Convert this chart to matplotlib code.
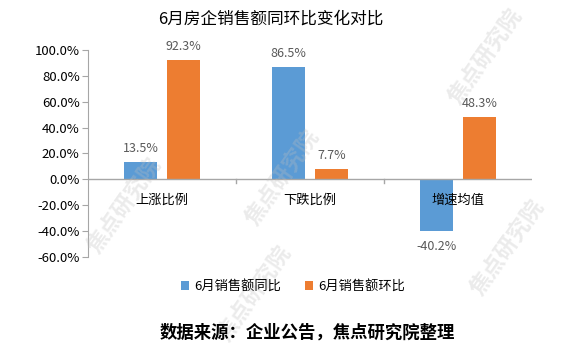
import numpy as np
import matplotlib
matplotlib.use("Agg")
import matplotlib.pyplot as plt
from matplotlib.ticker import FuncFormatter

plt.rcParams['font.family'] = ['Noto Sans CJK SC', 'DejaVu Sans']

categories = ["上涨比例", "下跌比例", "增速均值"]
yoy = [13.5, 86.5, -40.2]   # 6月销售额同比
mom = [92.3, 7.7, 48.3]     # 6月销售额环比
series_names = ["6月销售额同比", "6月销售额环比"]

blue = "#5B9BD5"
orange = "#ED7D31"
gray = "#595959"

fig = plt.figure(figsize=(5.64, 3.54), dpi=100)
ax = fig.add_axes([0.156, 0.274, 0.787, 0.585])

x = np.arange(len(categories))
w = 0.22
off = 0.145
b1 = ax.bar(x - off, yoy, w, color=blue, label=series_names[0], zorder=2)
b2 = ax.bar(x + off, mom, w, color=orange, label=series_names[1], zorder=2)

for bars, vals in [(b1, yoy), (b2, mom)]:
    for r, v in zip(bars, vals):
        cx = r.get_x() + r.get_width() / 2
        if v >= 0:
            ax.annotate(f"{v:.1f}%", (cx, v), xytext=(0, 5), textcoords="offset points",
                        ha="center", va="bottom", fontsize=9, color=gray)
        else:
            ax.annotate(f"{v:.1f}%", (cx, v), xytext=(0, -6), textcoords="offset points",
                        ha="center", va="top", fontsize=9, color=gray)

ax.set_ylim(-60, 100)
ax.set_yticks(np.arange(-60, 101, 20))
ax.yaxis.set_major_formatter(FuncFormatter(lambda v, p: f"{v:.1f}%"))
ax.tick_params(axis="y", labelsize=9.5, labelcolor="black", length=4, color="#A6A6A6", pad=2)
ax.set_xlim(-0.5, 2.5)

for s in ["top", "right", "bottom"]:
    ax.spines[s].set_visible(False)
ax.spines["left"].set_color("#A6A6A6")
ax.axhline(0, color="#A6A6A6", lw=1, zorder=3)

# category ticks between groups and labels at the zero line
ax.set_xticks([])
for b in [0.5, 1.5]:
    ax.plot([b, b], [0, -2.5], color="#A6A6A6", lw=1, zorder=3, clip_on=False)
for i, c in enumerate(categories):
    ax.text(i, -11, c, ha="center", va="top", fontsize=9.5, color="black", zorder=4)

# watermark
for (wx, wy) in [(0.22, 0.42), (0.5, 0.5), (0.45, 0.17), (0.9, 0.3), (0.86, 0.84)]:
    fig.text(wx, wy, "焦点研究院", fontsize=16, color="#BFBFBF", alpha=0.3,
             rotation=55, ha="center", va="center", style="italic", fontweight="bold")

fig.text(0.48, 0.945, "6月房企销售额同环比变化对比", ha="center", va="center", fontsize=12, color="black")
fig.legend(loc="center", bbox_to_anchor=(0.52, 0.19), ncol=2, frameon=False, fontsize=9.5,
           handlelength=0.6, handleheight=0.6, columnspacing=1.8, handletextpad=0.4,
           labelcolor="black")
fig.text(0.545, 0.062, "数据来源：企业公告，焦点研究院整理", ha="center", va="center",
         fontsize=12.5, fontweight="bold", color="black")

fig.savefig("out.png", dpi=100)
